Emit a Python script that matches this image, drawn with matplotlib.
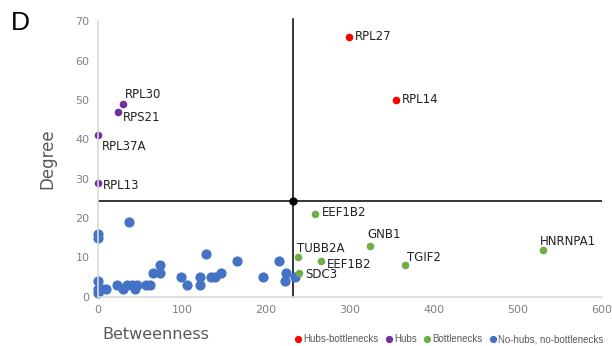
import matplotlib

matplotlib.use("Agg")
import matplotlib.pyplot as plt
from matplotlib.lines import Line2D

# Hubs-bottlenecks
hb_names = ["RPL27", "RPL14"]
hb_x = [299, 355]
hb_y = [66, 50]

# Hubs
hub_names = ["RPL30", "RPS21", "RPL37A", "RPL13"]
hub_x = [30, 24, 0, 0]
hub_y = [49, 47, 41, 29]

# Bottlenecks
bn_names = ["EEF1B2", "GNB1", "HNRNPA1", "TGIF2", "EEF1B2", "TUBB2A", "SDC3"]
bn_x = [258, 324, 530, 365, 266, 238, 239]
bn_y = [21, 13, 12, 8, 9, 10, 6]

# No-hubs, no-bottlenecks
nn_x = [0, 0, 37, 0, 0, 0, 5, 10, 23, 30, 35, 41, 44, 47, 57, 62, 66, 74, 74,
        99, 106, 121, 121, 129, 135, 139, 147, 165, 197, 215, 224, 223, 234]
nn_y = [16, 15, 19, 4, 2, 1, 2, 2, 3, 2, 3, 3, 2, 3, 3, 3, 6, 8, 6,
        5, 3, 5, 3, 11, 5, 5, 6, 9, 5, 9, 6, 4, 5]

# threshold lines (mean betweenness / mean degree)
thr_x = 232.5
thr_y = 24.4

# label offsets in pixels (dx, dy)
hb_off = [(6, 0), (6, 0)]
hub_off = [(2, 9), (5, -6), (4, -11), (5, -3)]
bn_off = [(7, 2), (-3, 11), (-3, 8), (2, 8), (5, -3), (-1, 9), (6, -1)]

RED, PURPLE, GREEN, BLUE = "#ff0000", "#7030a0", "#70ad47", "#4472c4"
TICK = "#808080"

fig = plt.figure(figsize=(6.12, 3.46), dpi=100)
ax = fig.add_axes([0.160, 0.142, 0.824, 0.797])

ax.axhline(thr_y, xmin=0, xmax=1, color="black", lw=1.1, zorder=1)
ax.plot([thr_x, thr_x], [0, 70.5], color="black", lw=1.1, zorder=1, clip_on=False)
ax.plot([thr_x], [thr_y], "o", color="black", ms=5, zorder=3)

ax.scatter(nn_x, nn_y, s=40, color=BLUE, zorder=2, clip_on=False)
ax.scatter(bn_x, bn_y, s=20, color=GREEN, zorder=2, clip_on=False)
ax.scatter(hub_x, hub_y, s=20, color=PURPLE, zorder=2, clip_on=False)
ax.scatter(hb_x, hb_y, s=20, color=RED, zorder=2, clip_on=False)

for names, xs, ys, offs in [(hb_names, hb_x, hb_y, hb_off),
                            (hub_names, hub_x, hub_y, hub_off),
                            (bn_names, bn_x, bn_y, bn_off)]:
    for n, x, y, (dx, dy) in zip(names, xs, ys, offs):
        ax.annotate(n, (x, y), xytext=(dx, dy), textcoords="offset pixels",
                    ha="left", va="center", fontsize=8.5, color="#222222")

ax.set_xlim(0, 600)
ax.set_ylim(0, 70)
ax.set_xticks(range(0, 601, 100))
ax.set_yticks(range(0, 71, 10))
for side in ["top", "right"]:
    ax.spines[side].set_visible(False)
for side in ["left", "bottom"]:
    ax.spines[side].set_color("#d9d9d9")
    ax.spines[side].set_linewidth(1.2)
ax.tick_params(length=0, labelsize=8, colors=TICK, pad=6)
ax.set_xlabel("Betweenness", fontsize=11.5, color="#595959")
ax.xaxis.set_label_coords(0.115, -0.11)
ax.xaxis.label.set_va("top")
ax.set_ylabel("Degree", fontsize=12, color="#595959", labelpad=14)

fig.text(0.018, 0.968, "D", fontsize=19, va="top", ha="left",
         family="Liberation Sans")

handles = [Line2D([], [], ls="", marker="o", ms=4.2, color=c, label=l)
           for c, l in [(RED, "Hubs-bottlenecks"), (PURPLE, "Hubs"),
                        (GREEN, "Bottlenecks"), (BLUE, "No-hubs, no-bottlenecks")]]
fig.legend(handles=handles, loc="lower right", bbox_to_anchor=(1.0, -0.02),
           ncol=4, frameon=False, prop={"family": "Liberation Sans", "size": 7},
           handletextpad=0.1, columnspacing=0.7, handlelength=0.8,
           labelcolor="#595959")

fig.savefig("out.png", dpi=100)
